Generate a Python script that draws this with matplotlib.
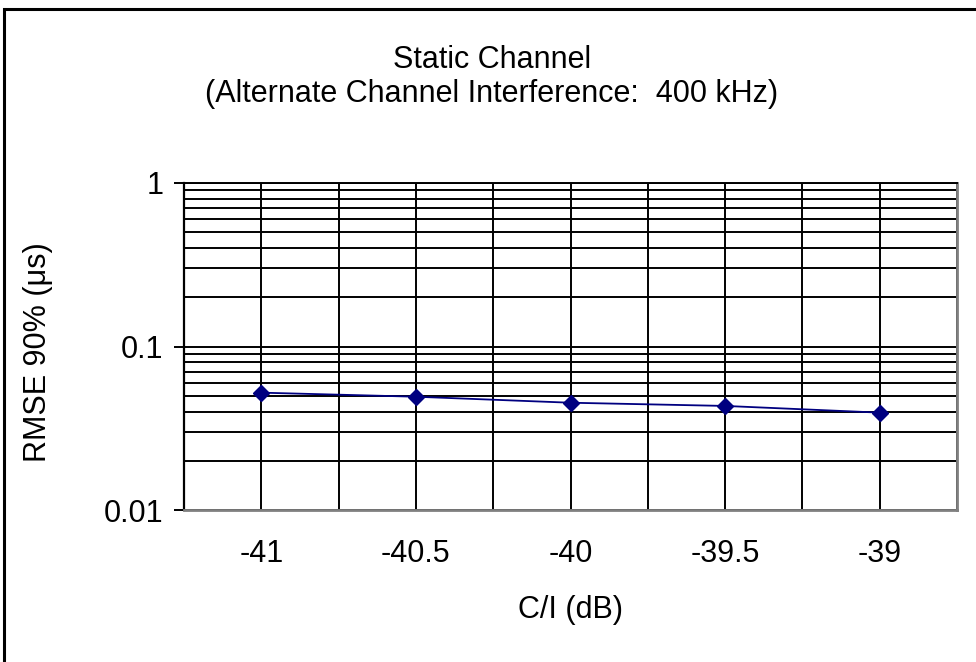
import matplotlib
matplotlib.use("Agg")
from matplotlib import pyplot as plt
from matplotlib.patches import Rectangle
import numpy as np

# data
ci_db = ["-41", "-40.5", "-40", "-39.5", "-39"]
rmse_90 = [0.0522, 0.0493, 0.0453, 0.0433, 0.0394]

plt.rcParams['font.family'] = ['Liberation Sans', 'DejaVu Sans']
fs = 22

fig = plt.figure(figsize=(9.76, 6.62), dpi=100)
ax = fig.add_axes([184/976, 152/662, 773/976, 327/662])

x = np.arange(len(ci_db))
ax.set_yscale('log')
ax.set_ylim(0.01, 1)
ax.set_xlim(-0.5, len(ci_db) - 0.5)

# horizontal gridlines at every log step, vertical at categories and between
ax.set_yticks([0.01, 0.1, 1])
ax.set_yticklabels(["0.01", "0.1", "1"])
ax.yaxis.set_minor_locator(matplotlib.ticker.LogLocator(base=10, subs=np.arange(2, 10)))
ax.yaxis.set_minor_formatter(matplotlib.ticker.NullFormatter())
ax.grid(True, which='both', axis='y', color='black', linewidth=1.4)
ax.tick_params(axis='y', which='minor', length=0)
ax.tick_params(axis='y', which='major', length=7, width=1.4, direction='out',
               labelsize=fs, pad=8)

ax.set_xticks(x)
ax.set_xticklabels(ci_db)
ax.set_xticks(np.arange(-0.5, len(ci_db), 1)[1:], minor=True)
ax.grid(True, which='both', axis='x', color='black', linewidth=1.4)
ax.tick_params(axis='x', which='both', length=0, labelsize=fs, pad=21)

ax.plot(x, rmse_90, color='#000080', linewidth=1.3, marker='D', markersize=8,
        zorder=5, clip_on=False)

for s in ['right', 'bottom']:
    ax.spines[s].set_color('#808080')
    ax.spines[s].set_linewidth(2)
ax.spines['top'].set_color('black')
ax.spines['top'].set_linewidth(1.4)
ax.spines['left'].set_color('black')
ax.spines['left'].set_linewidth(1.6)

fig.text(570/976, 1 - 610/662, "C/I (dB)", fontsize=fs, ha='center', va='center')
fig.text(38/976, 1 - 352/662, "RMSE 90% (μs)", fontsize=fs, rotation=90,
         ha='center', va='center')

fig.text(492/976, 1 - 60/662, "Static Channel", fontsize=fs, ha='center', va='center')
fig.text(492/976, 1 - 94/662, "(Alternate Channel Interference:  400 kHz)", fontsize=fs,
         ha='center', va='center')

# outer chart border
fig.patches.append(Rectangle((4/976, -0.01), 1.0, 1 - 9/662 + 0.01,
                             transform=fig.transFigure, fill=False,
                             edgecolor='black', linewidth=2.2))

fig.savefig("out.png", dpi=100)
